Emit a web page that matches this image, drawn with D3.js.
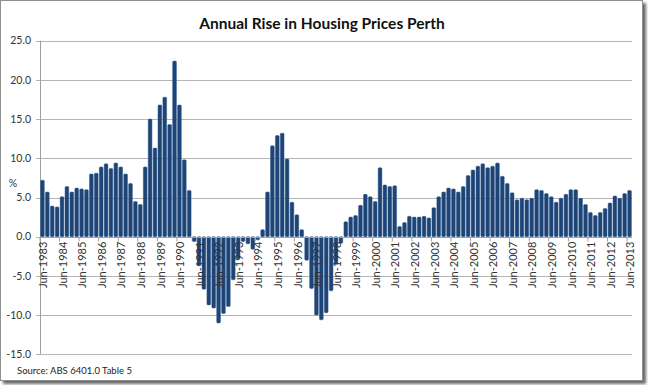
<!DOCTYPE html>
<html>
<head>
<meta charset="utf-8">
<script src="https://cdn.jsdelivr.net/npm/d3@7"></script>
<style>
  html, body { margin: 0; padding: 0; background: #fff; }
  svg { display: block; }
  text { font-family: Lato, "Open Sans", sans-serif; }
</style>
</head>
<body>
<svg id="chart" width="648" height="385"></svg>
<script>
// ---- Data (annual % change, quarterly, Jun-1983 .. Jun-2013) ----
const title = "Annual Rise in Housing Prices Perth";
const source = "Source: ABS 6401.0  Table 5";
const yLabel = "%";
const startYear = 1983;
const values = [
  7.2, 5.7, 3.9, 3.8, 5.1, 6.4, 5.7, 6.2, 6.1, 6.0,
  8.0, 8.1, 8.9, 9.3, 8.7, 9.4, 8.9, 8.0, 6.8, 4.5,
  4.1, 8.9, 15.0, 11.3, 16.8, 17.8, 14.3, 22.4, 16.8, 9.8,
  5.9, -0.6, -3.7, -6.7, -8.7, -9.1, -11.0, -9.8, -8.9, -5.5,
  -2.8, -0.6, -0.9, -1.6, -0.4, 0.9, 5.7, 11.6, 12.9, 13.2,
  9.9, 4.4, 2.8, 0.9, -3.0, -6.6, -10.0, -10.6, -9.7, -6.9,
  -3.5, -0.85, 1.9, 2.5, 2.7, 4.0, 5.4, 5.1, 4.5, 8.8,
  6.6, 6.4, 6.5, 1.3, 1.8, 2.6, 2.5, 2.5, 2.6, 2.4,
  3.7, 5.1, 5.7, 6.2, 6.1, 5.7, 6.4, 7.8, 8.5, 9.0,
  9.3, 8.8, 9.0, 9.4, 7.7, 6.8, 5.6, 4.7, 4.9, 4.7,
  4.9, 6.0, 5.9, 5.5, 5.1, 4.4, 4.9, 5.4, 6.0, 6.0,
  4.9, 4.1, 3.1, 2.7, 3.1, 3.6, 4.3, 5.2, 4.9, 5.5,
  5.9
];
const quarterNames = ["Jun", "Sep", "Dec", "Mar"];
const categories = values.map((v, i) => {
  const q = i % 4;
  const yr = startYear + Math.floor(i / 4) + (q === 3 ? 1 : 0);
  return quarterNames[q] + "-" + yr;
});
const tickLabels = categories.filter(c => c.startsWith("Jun-"));
const yTicks = [-15, -10, -5, 0, 5, 10, 15, 20, 25];

// ---- Layout ----
const svg = d3.select("#chart");
const plot = { left: 40, right: 632, top: 40.7, bottom: 354.3 };

// frame with drop shadow
const defs = svg.append("defs");
const fl = defs.append("filter").attr("id", "shadow")
  .attr("x", "-5%").attr("y", "-5%").attr("width", "110%").attr("height", "110%");
fl.append("feGaussianBlur").attr("in", "SourceAlpha").attr("stdDeviation", 1.6);
fl.append("feOffset").attr("dx", 3).attr("dy", 3).attr("result", "ob");
fl.append("feComponentTransfer").append("feFuncA").attr("type", "linear").attr("slope", 0.6);
const mg = fl.append("feMerge");
mg.append("feMergeNode");
mg.append("feMergeNode").attr("in", "SourceGraphic");

svg.append("rect")
  .attr("x", 0.5).attr("y", 0.5).attr("width", 642).attr("height", 380)
  .attr("fill", "#fff").attr("stroke", "#8f8f8f").attr("stroke-width", 1)
  .attr("filter", "url(#shadow)");

const x = d3.scaleBand().domain(categories).range([plot.left, plot.right])
  .paddingInner(0.24).paddingOuter(0.12);
const y = d3.scaleLinear().domain([-15, 25]).range([plot.bottom, plot.top]);

// gridlines
svg.append("g").selectAll("line").data(yTicks).join("line")
  .attr("x1", plot.left - 4).attr("x2", plot.right)
  .attr("y1", d => Math.round(y(d)) + 0.5).attr("y2", d => Math.round(y(d)) + 0.5)
  .attr("stroke", "#b5b5b5").attr("stroke-width", 1);

// y axis line
svg.append("line")
  .attr("x1", plot.left + 0.5).attr("x2", plot.left + 0.5)
  .attr("y1", y(25)).attr("y2", y(-15))
  .attr("stroke", "#a0a0a0");

// y tick labels
svg.append("g").selectAll("text").data(yTicks).join("text")
  .attr("x", 31).attr("y", d => y(d))
  .attr("dy", "0.35em").attr("text-anchor", "end")
  .attr("font-size", 10.5).attr("fill", "#333")
  .text(d => d.toFixed(1));

// bars
svg.append("g").selectAll("rect").data(values).join("rect")
  .attr("x", (d, i) => x(categories[i]))
  .attr("width", x.bandwidth())
  .attr("y", d => d >= 0 ? y(d) : y(0))
  .attr("height", d => Math.abs(y(d) - y(0)))
  .attr("rx", 1)
  .attr("fill", "#1e4476")
  .attr("stroke", "#2f5a90").attr("stroke-width", 0.5);

// x axis at zero
const y0 = Math.round(y(0)) + 0.5;
svg.append("line")
  .attr("x1", plot.left).attr("x2", plot.right)
  .attr("y1", y0).attr("y2", y0)
  .attr("stroke", "#a0a0a0");
const step = x.step();
svg.append("g").selectAll("line").data(tickLabels).join("line")
  .attr("x1", d => x(d) - x.paddingInner() * step / 2)
  .attr("x2", d => x(d) - x.paddingInner() * step / 2)
  .attr("y1", y0).attr("y2", y0 + 4)
  .attr("stroke", "#a0a0a0");

// x tick labels (rotated)
svg.append("g").selectAll("text").data(tickLabels).join("text")
  .attr("transform", d => `translate(${x(d) + x.bandwidth() / 2 + 0.8},${y(0) + 5}) rotate(-90)`)
  .attr("dy", "0.35em").attr("text-anchor", "end")
  .attr("font-size", 11).attr("fill", "#333")
  .text(d => d);

// title
svg.append("text")
  .attr("x", 322).attr("y", 29).attr("text-anchor", "middle")
  .attr("font-size", 15.5).attr("font-weight", "bold").attr("fill", "#111")
  .text(title);

// y label
svg.append("text")
  .attr("x", 13).attr("y", 183).attr("dy", "0.35em").attr("text-anchor", "middle")
  .attr("font-size", 10.5).attr("fill", "#333")
  .text(yLabel);

// source
svg.append("text")
  .attr("x", 17).attr("y", 374)
  .attr("font-size", 9.5).attr("fill", "#222")
  .text(source);
</script>
</body>
</html>
